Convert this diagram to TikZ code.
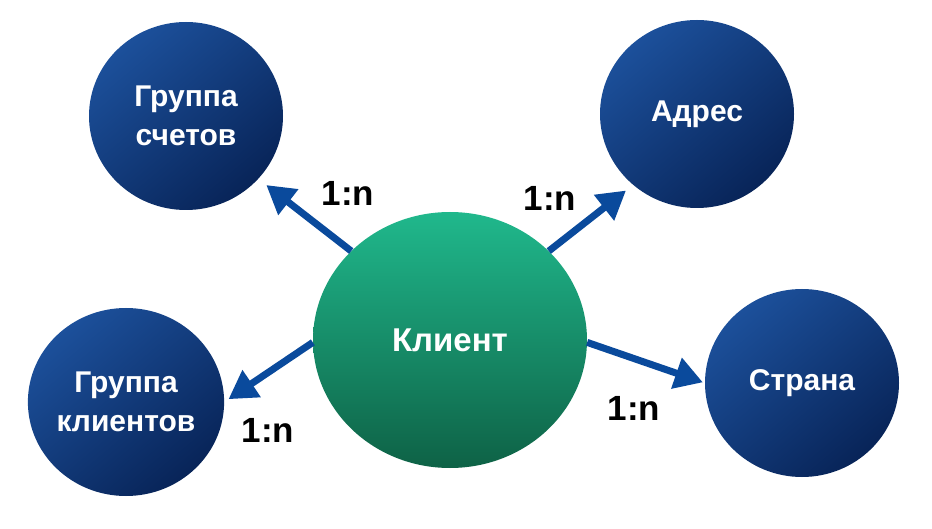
\documentclass[tikz,border=0pt]{standalone}
\usepackage{fontspec}
\setmainfont{Liberation Sans}
\usetikzlibrary{shapes.geometric,arrows.meta}
\definecolor{bluelight}{RGB}{28,80,155}
\definecolor{bluedark}{RGB}{8,36,88}
\definecolor{greenlight}{RGB}{32,184,140}
\definecolor{greendark}{RGB}{14,98,70}
\definecolor{arrowblue}{RGB}{10,74,156}
\tikzset{
  entity/.style={ellipse, inner sep=0pt, minimum width=194pt, minimum height=188pt,
    top color=bluelight, bottom color=bluedark, shading angle=40,
    text=white, font=\bfseries\fontsize{30}{39}\selectfont, align=center},
  central/.style={ellipse, inner sep=0pt, minimum width=274pt, minimum height=256pt,
    top color=greenlight, bottom color=greendark,
    text=white, font=\bfseries\fontsize{33}{38}\selectfont},
  rel/.style={draw=arrowblue, line width=7pt,
    -{Triangle[length=28pt,width=31pt]}},
  card/.style={font=\bfseries\fontsize{35}{40}\selectfont, text=black, inner sep=0pt}
}
\begin{document}
\begin{tikzpicture}[x=1pt,y=-1pt]
\useasboundingbox (0,0) rectangle (932,529);
\node[entity] (gs) at (186,116) {Группа\\счетов};
\node[entity] (adr) at (697,114) {Адрес};
\node[central] (kl) at (450,340) {Клиент};
\node[entity] (gk) at (126,402) {Группа\\клиентов};
\node[entity] (st) at (802,383) {Страна};
\draw[rel, shorten >=10pt] (kl.138) -- (gs.-41);
\draw[rel, shorten >=9pt] (kl.42) -- (adr.-132);
\draw[rel, shorten >=5pt] (kl.181) -- (gk.0);
\draw[rel, shorten >=2pt] (kl.-1) -- (st.180);
\node[card] (c1) at (348,193) {1:n};
\node[card] (c2) at (550,198) {1:n};
\node[card] (c3) at (268,430) {1:n};
\node[card] (c4) at (634,408) {1:n};
\end{tikzpicture}
\end{document}
